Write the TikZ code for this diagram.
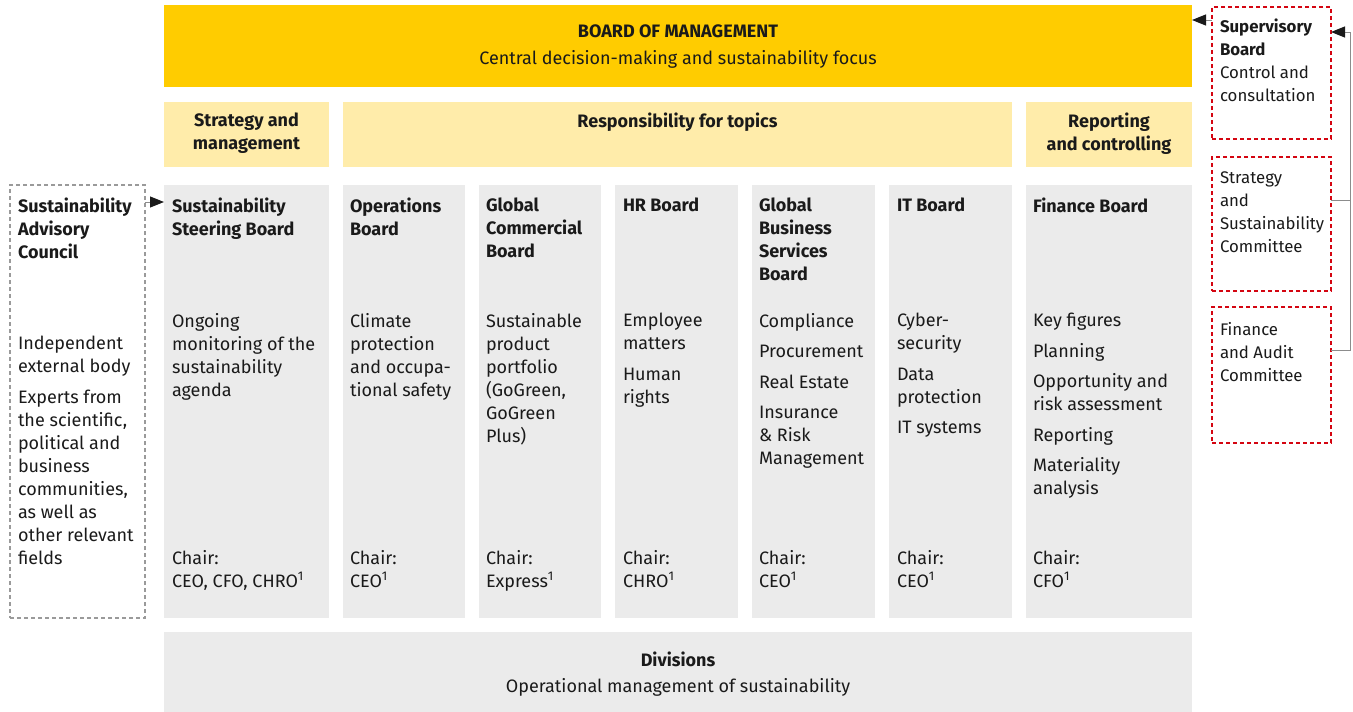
\documentclass[tikz,border=0pt]{standalone}
\usepackage{fontspec}
\setmainfont{Fira Sans}
\usetikzlibrary{arrows.meta}
\definecolor{dhlyellow}{HTML}{FFCC00}
\definecolor{paleyellow}{HTML}{FFECAA}
\definecolor{boxgrey}{HTML}{EBEBEB}
\definecolor{dhlred}{HTML}{D40511}
\definecolor{dashgrey}{HTML}{9A9A9A}
\definecolor{linkgrey}{HTML}{8C8C8C}
\definecolor{inkgrey}{HTML}{1A1A1A}

\begin{document}
\begin{tikzpicture}[x=1pt, y=-1pt,
    every node/.style={inner sep=0pt, outer sep=0pt, text=inkgrey},
    boardbox/.style={anchor=north west, fill=boxgrey, minimum height=433},
    topicbox/.style={anchor=north west, fill=paleyellow, minimum height=65},
    reddash/.style={anchor=north west, draw=dhlred, line width=1.1pt, dash pattern=on 4pt off 3pt, minimum width=119},
    txt/.style={anchor=north west, align=left, font=\fontsize{18}{23}\selectfont},
    head/.style={txt, font=\fontsize{18}{23}\selectfont\bfseries},
    sidetxt/.style={txt, font=\fontsize{16.8}{23}\selectfont},
    mid/.style={anchor=north, align=center, font=\fontsize{18}{23}\selectfont\bfseries},
    arr/.style={line width=1pt, draw=linkgrey, -{Triangle[length=14pt, width=11pt, color=inkgrey]}},
  ]
  \useasboundingbox (0,0) rectangle (1353,712);

  % board of management
  \node[anchor=north west, fill=dhlyellow, minimum width=1028, minimum height=82] (bom) at (164,5) {};
  \node[align=center, font=\fontsize{18}{23}\selectfont] (bomT) at (678,46.5)
    {\textbf{BOARD OF MANAGEMENT}\\[4pt]Central decision-making and sustainability focus};

  % topic headers
  \node[topicbox, minimum width=165] (strat) at (164,102) {};
  \node[topicbox, minimum width=669] (resp) at (343,102) {};
  \node[topicbox, minimum width=166] (rep) at (1026,102) {};
  \node[mid] (stratT) at (246.5,113) {Strategy and\\management};
  \node[mid] (respT) at (677.5,113) {Responsibility for topics};
  \node[mid] (repT) at (1109,113) {Reporting\\and controlling};

  % boards
  \node[boardbox, minimum width=165] (ssb) at (164,185) {};
  \node[boardbox, minimum width=122] (ops) at (343,185) {};
  \node[boardbox, minimum width=122] (gcb) at (479,185) {};
  \node[boardbox, minimum width=123] (hrb) at (615,185) {};
  \node[boardbox, minimum width=123] (gbs) at (752,185) {};
  \node[boardbox, minimum width=123] (itb) at (889,185) {};
  \node[boardbox, minimum width=166] (fib) at (1026,185) {};

  \node[head] (ssbT) at (172,198) {Sustainability\\Steering Board};
  \node[txt] (ssbD) at (172,313) {Ongoing\\monitoring of the\\sustainability\\agenda};
  \node[txt] (ssbC) at (172,550) {Chair:\\CEO, CFO, CHRO\textsuperscript{1}};

  \node[head] (opsT) at (350,198) {Operations\\Board};
  \node[txt] (opsD) at (350,313) {Climate\\protection\\and occupa-\\tional safety};
  \node[txt] (opsC) at (350,550) {Chair:\\CEO\textsuperscript{1}};

  \node[head] (gcbT) at (486,198) {Global\\Commercial\\Board};
  \node[txt] (gcbD) at (486,313) {Sustainable\\product\\portfolio\\(GoGreen,\\GoGreen\\Plus)};
  \node[txt] (gcbC) at (486,550) {Chair:\\Express\textsuperscript{1}};

  \node[head] (hrbT) at (623,198) {HR Board};
  \node[txt] (hrbD) at (623,313) {Employee\\matters\\[7.5pt]Human\\rights};
  \node[txt] (hrbC) at (623,550) {Chair:\\CHRO\textsuperscript{1}};

  \node[head] (gbsT) at (759,198) {Global\\Business\\Services\\Board};
  \node[txt] (gbsD) at (759,313) {Compliance\\[7.5pt]Procurement\\[7.5pt]Real Estate\\[7.5pt]Insurance\\\& Risk\\Management};
  \node[txt] (gbsC) at (759,550) {Chair:\\CEO\textsuperscript{1}};

  \node[head] (itbT) at (897,198) {IT Board};
  \node[txt] (itbD) at (897,313) {Cyber-\\security\\[7.5pt]Data\\protection\\[7.5pt]IT systems};
  \node[txt] (itbC) at (897,550) {Chair:\\CEO\textsuperscript{1}};

  \node[head] (fibT) at (1033,198) {Finance Board};
  \node[txt] (fibD) at (1033,313) {Key figures\\[7.5pt]Planning\\[7.5pt]Opportunity and\\risk assessment\\[7.5pt]Reporting\\[7.5pt]Materiality\\analysis};
  \node[txt] (fibC) at (1033,550) {Chair:\\CFO\textsuperscript{1}};

  % divisions
  \node[anchor=north west, fill=boxgrey, minimum width=1028, minimum height=80] (div) at (164,632) {};
  \node[align=center, font=\fontsize{18}{23}\selectfont] (divT) at (678,674)
    {\textbf{Divisions}\\[3pt]Operational management of sustainability};

  % advisory council
  \node[anchor=north west, draw=dashgrey, line width=1.1pt, dash pattern=on 4pt off 3pt, minimum width=135, minimum height=433] (sac) at (10,185) {};
  \node[head] (sacT) at (18,198) {Sustainability\\Advisory\\Council};
  \node[txt] (sacD) at (18,336) {Independent\\external body\\[8pt]Experts from\\the scientific,\\political and\\business\\communities,\\as well as\\other relevant\\fields};

  % supervisory board
  \node[reddash, minimum height=132] (sb) at (1212,7) {};
  \node[reddash, minimum height=134] (ssc) at (1212,157) {};
  \node[reddash, minimum height=136] (fac) at (1212,307) {};
  \node[sidetxt] (sbT) at (1220,18.5) {\textbf{Supervisory}\\\textbf{Board}\\Control and\\consultation};
  \node[sidetxt] (sscT) at (1220,172) {Strategy\\and\\Sustainability\\Committee};
  \node[sidetxt] (facT) at (1220,322) {Finance\\and Audit\\Committee};

  % connectors
  \draw[arr] ([yshift=-17pt]sac.north east) -- ([yshift=-17pt]ssb.north west);
  \draw[arr] ([yshift=-13pt]sb.north west) -- ([yshift=-13pt]sb.north west -| bom.east);
  \draw[line width=1pt, draw=linkgrey] ([yshift=-43pt]ssc.north east) -- ++(19,0);
  \draw[arr] ([yshift=-43pt]fac.north east) -- ++(19,0) |- ([yshift=-25pt]sb.north east);
\end{tikzpicture}
\end{document}
